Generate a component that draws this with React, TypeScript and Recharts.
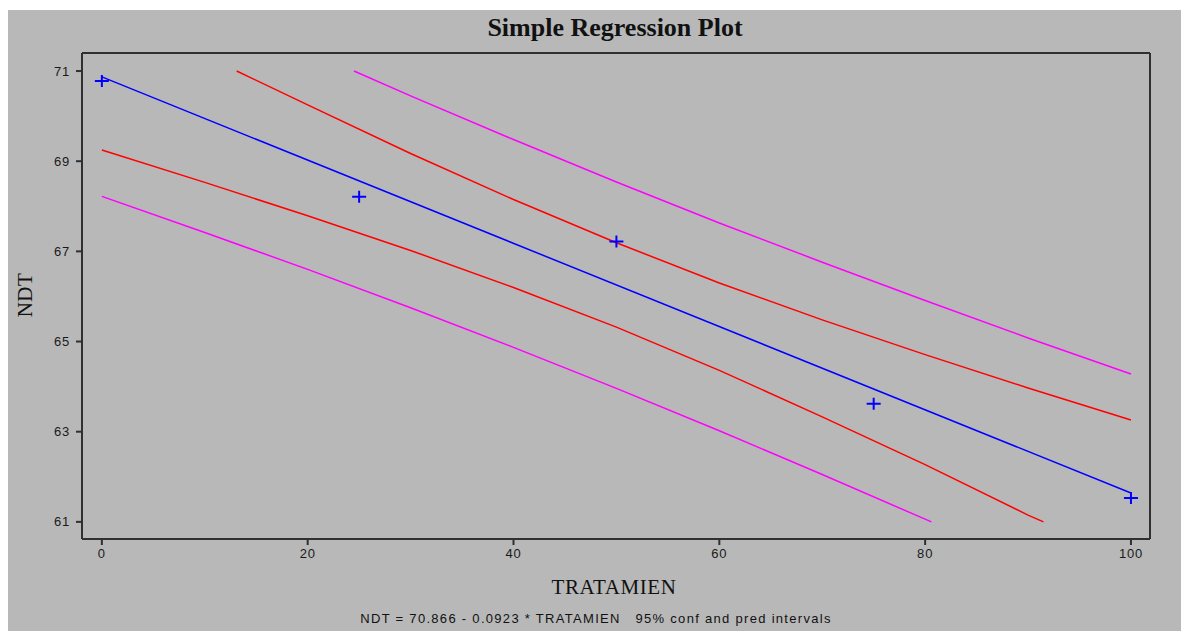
import React from 'react';
import { ComposedChart, Line, Scatter, XAxis, YAxis, ReferenceLine } from 'recharts';

// observed values
const obsX = [0, 25, 50, 75, 100];
const obsY = [70.78, 68.21, 67.22, 63.62, 61.53];

// fitted line NDT = 70.866 - 0.0923 * TRATAMIEN
const fitX = [0, 100];
const fitY = [70.87, 61.64];

// 95% confidence band (red)
const confUpX = [13.1, 20, 30, 40, 50, 60, 70, 80, 90, 100];
const confUpY = [71.0, 70.25, 69.17, 68.15, 67.19, 66.3, 65.48, 64.71, 63.97, 63.26];
const confLoX = [0, 10, 20, 30, 40, 50, 60, 70, 80, 90, 91.5];
const confLoY = [69.25, 68.53, 67.79, 67.02, 66.2, 65.32, 64.36, 63.33, 62.27, 61.15, 61.0];

// 95% prediction band (magenta)
const predUpX = [24.5, 30, 40, 50, 60, 70, 80, 90, 100];
const predUpY = [71.0, 70.45, 69.48, 68.54, 67.63, 66.76, 65.91, 65.08, 64.28];
const predLoX = [0, 10, 20, 30, 40, 50, 60, 70, 80, 80.6];
const predLoY = [68.22, 67.42, 66.6, 65.75, 64.87, 63.96, 63.02, 62.05, 61.06, 61.0];

const xTicks = [0, 20, 40, 60, 80, 100];
const yTicks = [61, 63, 65, 67, 69, 71];

const zip = (xs: number[], ys: number[]) => xs.map((x, i) => ({ x, y: ys[i] }));

const BG = '#b8b8b8';
const AXIS = '#303030';
const X_DOMAIN: [number, number] = [-1.93, 101.85];
const Y_DOMAIN: [number, number] = [60.62, 71.4];

const tickStyle = { fontFamily: 'Liberation Sans, Arial, sans-serif', fontSize: 13, fill: '#1a1a1a', letterSpacing: 0.8 };

const Cross = (props: any) => {
  const { cx, cy } = props;
  if (cx == null || cy == null) return null;
  return (
    <path
      d={`M${cx - 7},${cy} L${cx + 7},${cy} M${cx},${cy - 6} L${cx},${cy + 6}`}
      stroke="#0000ff"
      strokeWidth={2}
      fill="none"
    />
  );
};

const App: React.FC = () => {
  return (
    <div style={{ position: 'absolute', left: 8, top: 10, width: 1173, height: 621, background: BG }}>
      <div
        style={{
          position: 'absolute',
          left: 0,
          width: 1214,
          top: 3,
          textAlign: 'center',
          fontFamily: 'Liberation Serif, Times New Roman, serif',
          fontSize: 26,
          fontWeight: 'bold',
          color: '#111',
        }}
      >
        Simple Regression Plot
      </div>

      <ComposedChart
        width={1173}
        height={621}
        margin={{ top: 43, right: 31, bottom: 62, left: 0 }}
      >
        <XAxis
          type="number"
          dataKey="x"
          domain={X_DOMAIN}
          ticks={xTicks}
          allowDataOverflow
          height={30}
          tick={tickStyle}
          tickSize={6}
          tickMargin={4}
          axisLine={{ stroke: AXIS, strokeWidth: 2 }}
          tickLine={{ stroke: AXIS, strokeWidth: 2 }}
        />
        <YAxis
          type="number"
          domain={Y_DOMAIN}
          ticks={yTicks}
          allowDataOverflow
          width={74}
          tick={tickStyle}
          tickSize={6}
          tickMargin={6}
          axisLine={{ stroke: AXIS, strokeWidth: 2 }}
          tickLine={{ stroke: AXIS, strokeWidth: 2 }}
        />

        {/* top and right edges of the plot frame */}
        <ReferenceLine y={Y_DOMAIN[1]} stroke={AXIS} strokeWidth={2} />
        <ReferenceLine x={X_DOMAIN[1]} stroke={AXIS} strokeWidth={2} />

        <Line data={zip(predUpX, predUpY)} dataKey="y" type="linear" stroke="#ff00ff" strokeWidth={1.5} dot={false} isAnimationActive={false} />
        <Line data={zip(predLoX, predLoY)} dataKey="y" type="linear" stroke="#ff00ff" strokeWidth={1.5} dot={false} isAnimationActive={false} />
        <Line data={zip(confUpX, confUpY)} dataKey="y" type="linear" stroke="#ff0000" strokeWidth={1.5} dot={false} isAnimationActive={false} />
        <Line data={zip(confLoX, confLoY)} dataKey="y" type="linear" stroke="#ff0000" strokeWidth={1.5} dot={false} isAnimationActive={false} />
        <Line data={zip(fitX, fitY)} dataKey="y" type="linear" stroke="#0000ff" strokeWidth={1.5} dot={false} isAnimationActive={false} />
        <Scatter data={zip(obsX, obsY)} dataKey="y" shape={Cross} isAnimationActive={false} />
      </ComposedChart>

      <div
        style={{
          position: 'absolute',
          left: 17,
          top: 285,
          transform: 'translate(-50%, -50%) rotate(-90deg)',
          fontFamily: 'Liberation Serif, Times New Roman, serif',
          fontSize: 21,
          letterSpacing: 0.5,
          color: '#111',
          whiteSpace: 'nowrap',
        }}
      >
        NDT
      </div>
      <div
        style={{
          position: 'absolute',
          left: 0,
          width: 1212,
          top: 565,
          textAlign: 'center',
          fontFamily: 'Liberation Serif, Times New Roman, serif',
          fontSize: 21,
          letterSpacing: 0.6,
          color: '#111',
        }}
      >
        TRATAMIEN
      </div>
      <div
        style={{
          position: 'absolute',
          left: 0,
          width: 1176,
          top: 601,
          textAlign: 'center',
          fontFamily: 'Liberation Sans, Arial, sans-serif',
          fontSize: 13,
          letterSpacing: 1.3,
          color: '#111',
          whiteSpace: 'pre',
        }}
      >
        {'NDT = 70.866 - 0.0923 * TRATAMIEN   95% conf and pred intervals'}
      </div>
    </div>
  );
};

export default App;
